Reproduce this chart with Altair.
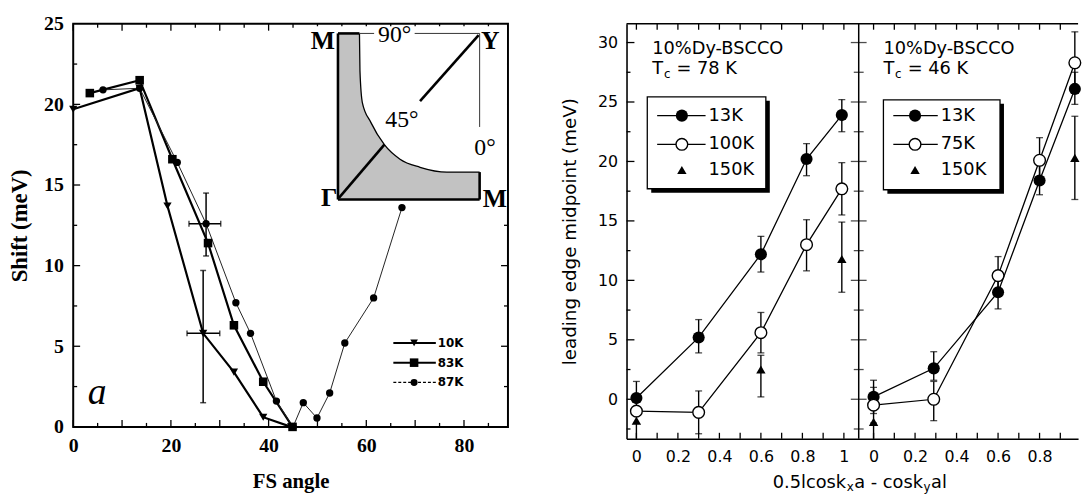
import altair as alt
import pandas as pd

SERIF = "Liberation Serif"
SANS = "DejaVu Sans"

# ---------------- panel a (left): Shift vs FS angle ----------------
k10_x = [0, 13.6, 19.3, 26.6, 32.9, 38.9, 44.6]
k10_y = [19.7, 21.0, 13.7, 5.8, 3.4, 0.6, 0.0]
k83_x = [3.4, 13.6, 20.3, 27.6, 32.9, 38.9, 44.9]
k83_y = [20.7, 21.5, 16.6, 11.4, 6.3, 2.8, 0.0]
k87_x = [6.1, 13.6, 21.3, 27.2, 33.3, 36.3, 41.6, 45.0, 47.1, 49.9, 52.5, 55.6, 61.5, 67.3]
k87_y = [20.9, 21.0, 16.4, 12.6, 7.7, 5.8, 1.6, 0.0, 1.5, 0.55, 2.1, 5.2, 8.0, 13.6]
err_a_x = [26.6, 27.2]
err_a_y = [5.8, 12.6]
err_a_xlo = [23.3, 23.7]
err_a_xhi = [30.0, 30.2]
err_a_ylo = [1.5, 10.6]
err_a_yhi = [9.7, 14.5]
a_xticks_major = [0, 10, 20, 30, 40, 50, 60, 70, 80]
a_xticks_minor = [5, 15, 25, 35, 45, 55, 65, 75, 85]
a_yticks_major = [5, 10, 15, 20]
a_yticks_minor = [2.5, 7.5, 12.5, 17.5, 22.5]
a_xlabels = [0, 20, 40, 60, 80]
a_ylabels = [0, 5, 10, 15, 20, 25]

# inset (Brillouin-zone sketch) in panel-a units
fs_curve_x = [54.2, 58.6, 58.7, 59.2, 60.9, 63.7, 66.9, 71.0, 76.5, 83.2]
fs_curve_y = [24.4, 24.4, 22.1, 20.1, 18.9, 17.5, 16.6, 16.1, 15.8, 15.8]
thick_x1 = [54.2, 54.2, 54.2, 83.2, 54.4, 71.0]
thick_y1 = [14.1, 24.4, 14.1, 14.1, 14.2, 20.2]
thick_x2 = [54.2, 58.6, 83.2, 83.2, 63.7, 83.0]
thick_y2 = [24.4, 24.4, 14.1, 15.8, 17.5, 24.3]
thin_x1 = [58.6, 69.9, 83.2]
thin_y1 = [24.4, 24.4, 24.4]
thin_x2 = [61.6, 83.2, 83.2]
thin_y2 = [24.4, 24.4, 18.6]
inset_bold_t = ["M", "Y", "Γ", "M"]
inset_bold_x = [51.1, 85.4, 52.4, 86.3]
inset_bold_y = [23.9, 23.9, 14.2, 14.1]
inset_t = ["90°", "45°", "0°"]
inset_x = [65.8, 67.3, 84.3]
inset_y = [24.3, 19.0, 17.3]

# ---------------- panels b/c: leading edge midpoint ----------------
RS = 1.143    # horizontal offset of the right-hand panel on the shared axis
DIV = 1.0714  # divider between the two panels
mid_x = [0, 0.3, 0.6, 0.82, 0.99]
mid13_y = [0.1, 5.2, 12.2, 20.2, 23.9]
mid13_lo = [-1.3, 3.9, 10.7, 18.8, 22.5]
mid13_hi = [1.5, 6.7, 13.7, 21.5, 25.2]
mid100_y = [-1.0, -1.1, 5.6, 13.0, 17.7]
mid100_lo = [None, -2.9, 3.9, 10.8, 15.5]
mid100_hi = [None, 0.7, 7.3, 15.1, 19.9]
mid150_x = [0, 0.6, 0.99]
mid150_y = [-1.8, 2.5, 11.8]
mid150_lo = [-3.32, 0.2, 9.0]
mid150_hi = [-1.8, 3.7, 14.9]
rt_x = [0, 0.29, 0.6, 0.8, 0.97]
rt13_y = [0.2, 2.6, 9.0, 18.4, 26.1]
rt13_lo = [-1.2, 1.6, 7.6, 17.2, 24.8]
rt13_hi = [1.6, 4.0, 10.4, 19.7, 27.5]
rt75_y = [-0.5, 0.0, 10.4, 20.1, 28.3]
rt75_lo = [-2.0, -1.8, 8.8, 18.5, 26.2]
rt75_hi = [1.0, 1.5, 12.0, 22.0, 30.9]
rt150_x = [0, 0.97]
rt150_y = [-1.9, 20.3]
rt150_lo = [-3.32, 16.8]
rt150_hi = [-1.9, 23.8]
b_xlabels = [0, 0.2, 0.4, 0.6, 0.8, 1.0]
c_xlabels = [0, 0.2, 0.4, 0.6, 0.8]
b_xticks = [0, 0.1, 0.2, 0.3, 0.4, 0.5, 0.6, 0.7, 0.8, 0.9, 1.0]
c_xticks = [0, 0.1, 0.2, 0.3, 0.4, 0.5, 0.6, 0.7, 0.8, 0.9]
b_ylabels = [0, 5, 10, 15, 20, 25, 30]
b_yticks_minor = [-2.5, 2.5, 7.5, 12.5, 17.5, 22.5, 27.5]


def ptext(s, x, y, size, font=SANS, weight="normal", align="left", baseline="alphabetic"):
    return alt.Chart(pd.DataFrame({"t": [s]})).mark_text(
        align=align, baseline=baseline, font=font, fontSize=size, fontWeight=weight, color="black"
    ).encode(x=alt.value(x), y=alt.value(y), text="t:N")


def prule(x1, x2, y1, y2, sw=1.3, dash=None, color="black"):
    kw = dict(color=color, strokeWidth=sw)
    if dash:
        kw["strokeDash"] = dash
    return alt.Chart(pd.DataFrame({"a": [0]})).mark_rule(**kw).encode(
        x=alt.value(x1), x2=alt.value(x2), y=alt.value(y1), y2=alt.value(y2))


def ppoint(x, y, shape, size, filled=True):
    if filled:
        m = alt.Chart(pd.DataFrame({"a": [0]})).mark_point(shape=shape, size=size, filled=True, color="black", opacity=1)
    else:
        m = alt.Chart(pd.DataFrame({"a": [0]})).mark_point(shape=shape, size=size, filled=True, fill="white",
                                                           stroke="black", strokeWidth=1.4, opacity=1)
    return m.encode(x=alt.value(x), y=alt.value(y))


def prect(x1, x2, y1, y2, fill, stroke=None, sw=0):
    kw = dict(fill=fill)
    if stroke:
        kw.update(stroke=stroke, strokeWidth=sw)
    return alt.Chart(pd.DataFrame({"a": [0]})).mark_rect(**kw).encode(
        x=alt.value(x1), x2=alt.value(x2), y=alt.value(y1), y2=alt.value(y2))


# ======================= LEFT PANEL =======================
LW, LH = 440, 408
XA = alt.Scale(domain=[0, 89], nice=False, zero=False)
YA = alt.Scale(domain=[0, 25], nice=False, zero=False)
axis_xa = alt.Axis(values=a_xlabels, title="FS angle", labelFont=SERIF, labelFontSize=20, labelFontWeight="bold",
                   labelColor="black", labelPadding=9, labelFlush=False, labelOverlap=False, ticks=False, tickSize=0,
                   domain=False, grid=False, titleFont=SERIF, titleFontSize=21, titleFontWeight="bold",
                   titleColor="black", titlePadding=15)
axis_ya = alt.Axis(values=a_ylabels, title="Shift (meV)", labelFont=SERIF, labelFontSize=20, labelFontWeight="bold",
                   labelColor="black", labelPadding=10, labelFlush=False, labelOverlap=False, ticks=False, tickSize=0,
                   domain=False, grid=False, titleFont=SERIF, titleFontSize=23, titleFontWeight="bold",
                   titleColor="black", titlePadding=12)


def AX(f):
    return alt.X(f"{f}:Q", scale=XA, axis=axis_xa)


def AY(f):
    return alt.Y(f"{f}:Q", scale=YA, axis=axis_ya)


def xya(xf="x", yf="y"):
    return dict(x=AX(xf), y=AY(yf))


d10 = pd.DataFrame({"x": k10_x, "y": k10_y})
d83 = pd.DataFrame({"x": k83_x, "y": k83_y})
d87 = pd.DataFrame({"x": k87_x, "y": k87_y})
ea = pd.DataFrame({"x": err_a_x, "y": err_a_y, "xlo": err_a_xlo, "xhi": err_a_xhi,
                   "ylo": err_a_ylo, "yhi": err_a_yhi})


def a_rx(vals, y1, y2):
    return alt.Chart(pd.DataFrame({"v": vals})).mark_rule(color="black", strokeWidth=1.3).encode(
        x=AX("v"), y=alt.value(y1), y2=alt.value(y2))


def a_ry(vals, x1, x2):
    return alt.Chart(pd.DataFrame({"v": vals})).mark_rule(color="black", strokeWidth=1.3).encode(
        y=AY("v"), x=alt.value(x1), x2=alt.value(x2))


left_layers = [
    alt.Chart(d10).mark_line(color="black", strokeWidth=2.2).encode(**xya()),
    alt.Chart(d83).mark_line(color="black", strokeWidth=2.2).encode(**xya()),
    alt.Chart(d87).mark_line(color="#222222", strokeWidth=1.0).encode(**xya()),
    # error bars
    alt.Chart(ea).mark_rule(color="black", strokeWidth=1.5).encode(x=AX("x"), y=AY("ylo"), y2="yhi:Q"),
    alt.Chart(ea).mark_rule(color="black", strokeWidth=1.5).encode(x=AX("xlo"), x2="xhi:Q", y=AY("y")),
    alt.Chart(ea).mark_tick(orient="horizontal", color="black", size=6, thickness=1.5).encode(**xya("x", "ylo")),
    alt.Chart(ea).mark_tick(orient="horizontal", color="black", size=6, thickness=1.5).encode(**xya("x", "yhi")),
    alt.Chart(ea).mark_tick(orient="vertical", color="black", size=6, thickness=1.5).encode(**xya("xlo", "y")),
    alt.Chart(ea).mark_tick(orient="vertical", color="black", size=6, thickness=1.5).encode(**xya("xhi", "y")),
    # markers
    alt.Chart(d10).mark_point(shape="triangle-down", filled=True, size=70, color="black", opacity=1).encode(**xya()),
    alt.Chart(d83).mark_point(shape="square", filled=True, size=75, color="black", opacity=1).encode(**xya()),
    alt.Chart(d87).mark_point(shape="circle", filled=True, size=55, color="black", opacity=1).encode(**xya()),
    # inward ticks
    a_rx(a_xticks_major, LH, LH - 7), a_rx(a_xticks_minor, LH, LH - 4),
    a_rx(a_xticks_major, 0, 7), a_rx(a_xticks_minor, 0, 4),
    a_ry(a_yticks_major, 0, 7), a_ry(a_yticks_minor, 0, 4),
    a_ry(a_yticks_major, LW, LW - 7), a_ry(a_yticks_minor, LW, LW - 4),
]

# inset
inset_bg = pd.DataFrame({"x1": [47.5], "x2": [88.8], "y1": [13.9], "y2": [24.85]})
fs = pd.DataFrame({"x": fs_curve_x, "y": fs_curve_y, "b": [14.1] * len(fs_curve_x)})
thick = pd.DataFrame({"x1": thick_x1, "y1": thick_y1, "x2": thick_x2, "y2": thick_y2})
thin = pd.DataFrame({"x1": thin_x1, "y1": thin_y1, "x2": thin_x2, "y2": thin_y2})
ib = pd.DataFrame({"t": inset_bold_t, "x": inset_bold_x, "y": inset_bold_y})
it = pd.DataFrame({"t": inset_t, "x": inset_x, "y": inset_y})
left_layers += [
    alt.Chart(inset_bg).mark_rect(fill="white").encode(x=AX("x1"), x2="x2:Q", y=AY("y1"), y2="y2:Q"),
    alt.Chart(fs).mark_area(color="#c2c2c2", interpolate="monotone", opacity=1).encode(
        x=AX("x"), y=AY("y"), y2="b:Q"),
    alt.Chart(fs.iloc[1:]).mark_line(color="black", strokeWidth=1.3, interpolate="monotone").encode(**xya()),
    alt.Chart(thick).mark_rule(color="black", strokeWidth=2.6).encode(
        x=AX("x1"), y=AY("y1"), x2="x2:Q", y2="y2:Q"),
    alt.Chart(thin).mark_rule(color="#333333", strokeWidth=1.0).encode(
        x=AX("x1"), y=AY("y1"), x2="x2:Q", y2="y2:Q"),
    alt.Chart(ib).mark_text(font=SERIF, fontSize=26, fontWeight="bold", color="black", baseline="middle",
                            align="center").encode(text="t:N", **xya()),
    alt.Chart(it).mark_text(font=SERIF, fontSize=24, color="black", baseline="middle",
                            align="center").encode(text="t:N", **xya()),
    alt.Chart(pd.DataFrame({"x": [4.9], "y": [2.1], "t": ["a"]})).mark_text(
        font=SERIF, fontSize=38, fontStyle="italic", color="black", baseline="middle", align="center"
    ).encode(text="t:N", **xya()),
]

# legend of panel a (pixel positions inside the plot area)
lg_rows = [323, 343, 363]
left_layers += [
    prule(324, 367, lg_rows[0], lg_rows[0], sw=2),
    prule(324, 367, lg_rows[1], lg_rows[1], sw=2),
    prule(324, 367, lg_rows[2], lg_rows[2], sw=1.2, dash=[3, 2]),
    ppoint(345, lg_rows[0], "triangle-down", 60),
    ppoint(345, lg_rows[1], "square", 75),
    ppoint(345, lg_rows[2], "circle", 50),
    ptext("10K", 369, lg_rows[0], 12, weight="bold", baseline="middle"),
    ptext("83K", 369, lg_rows[1], 12, weight="bold", baseline="middle"),
    ptext("87K", 369, lg_rows[2], 12, weight="bold", baseline="middle"),
]

left = alt.layer(*left_layers).properties(
    width=LW, height=LH, view=alt.ViewBackground(stroke="black", strokeWidth=2, fill="white"))

# ======================= MIDDLE + RIGHT PANELS =======================
W, H = 457, 420
XB = alt.Scale(domain=[-0.0476, 2.1286], nice=False, zero=False)
YB = alt.Scale(domain=[-3.32, 31.58], nice=False, zero=False)

x_label_vals = b_xlabels + [round(v + RS, 4) for v in c_xlabels]
x_tick_vals = b_xticks + [round(v + RS, 4) for v in c_xticks]

axis_xb = alt.Axis(values=x_label_vals, title="",
                   labelExpr=f"datum.value > {DIV} ? format(datum.value - {RS}, '.1~f') : format(datum.value, '.1~f')",
                   labelFont=SANS, labelFontSize=16, labelColor="black", labelPadding=10, labelFlush=False,
                   labelOverlap=False, ticks=False, tickSize=0, domain=True, domainColor="black", domainWidth=1.6,
                   grid=False)
axis_yb = alt.Axis(values=b_ylabels, title="leading edge midpoint (meV)", labelFont=SANS, labelFontSize=16,
                   labelColor="black", labelPadding=9, labelFlush=False, labelOverlap=False, ticks=False, tickSize=0,
                   domain=True, domainColor="black", domainWidth=1.6, grid=False, titleFont=SANS, titleFontSize=18.5,
                   titleFontWeight="normal", titleColor="black", titlePadding=18)


def BX(f):
    return alt.X(f"{f}:Q", scale=XB, axis=axis_xb)


def BY(f):
    return alt.Y(f"{f}:Q", scale=YB, axis=axis_yb)


def xyb(xf="x", yf="y"):
    return dict(x=BX(xf), y=BY(yf))


def b_rx(vals, y1, y2):
    return alt.Chart(pd.DataFrame({"v": vals})).mark_rule(color="black", strokeWidth=1.3).encode(
        x=BX("v"), y=alt.value(y1), y2=alt.value(y2))


def b_ry(vals, x1, x2):
    return alt.Chart(pd.DataFrame({"v": vals})).mark_rule(color="black", strokeWidth=1.3).encode(
        y=BY("v"), x=alt.value(x1), x2=alt.value(x2))


def series(name, xs, ys, lo, hi, shift):
    return pd.DataFrame({"s": name, "x": [v + shift for v in xs], "y": ys, "lo": lo, "hi": hi})


sb13 = series("b13", mid_x, mid13_y, mid13_lo, mid13_hi, 0)
sb100 = series("b100", mid_x, mid100_y, mid100_lo, mid100_hi, 0)
sb150 = series("b150", mid150_x, mid150_y, mid150_lo, mid150_hi, 0)
sc13 = series("c13", rt_x, rt13_y, rt13_lo, rt13_hi, RS)
sc75 = series("c75", rt_x, rt75_y, rt75_lo, rt75_hi, RS)
sc150 = series("c150", rt150_x, rt150_y, rt150_lo, rt150_hi, RS)
lines_df = pd.concat([sb13, sb100, sc13, sc75], ignore_index=True)
all_df = pd.concat([sb13, sb100, sb150, sc13, sc75, sc150], ignore_index=True)
err_df = all_df.dropna(subset=["lo", "hi"])
cap_lo = err_df[err_df["lo"] > -3.2]
cap_hi = err_df[err_df["hi"] > err_df["y"] + 0.05]
filled_df = pd.concat([sb13, sc13], ignore_index=True)
open_df = pd.concat([sb100, sc75], ignore_index=True)
tri_df = pd.concat([sb150, sc150], ignore_index=True)

right_layers = [
    alt.Chart(lines_df).mark_line(color="black", strokeWidth=1.3).encode(**xyb(), detail="s:N"),
    alt.Chart(err_df).mark_rule(color="black", strokeWidth=1.4).encode(x=BX("x"), y=BY("lo"), y2="hi:Q"),
    alt.Chart(cap_lo).mark_tick(orient="horizontal", color="black", size=7, thickness=1.3).encode(**xyb("x", "lo")),
    alt.Chart(cap_hi).mark_tick(orient="horizontal", color="black", size=7, thickness=1.3).encode(**xyb("x", "hi")),
    alt.Chart(filled_df).mark_point(shape="circle", filled=True, size=150, color="black", opacity=1).encode(**xyb()),
    alt.Chart(open_df).mark_point(shape="circle", filled=True, size=140, fill="white", stroke="black",
                                  strokeWidth=1.4, opacity=1).encode(**xyb()),
    alt.Chart(tri_df).mark_point(shape="triangle-up", filled=True, size=90, color="black", opacity=1).encode(**xyb()),
    # inward ticks, frame top, divider
    b_rx(x_tick_vals, H, H - 6), b_rx(x_tick_vals, 0, 6),
    b_ry(b_ylabels, 0, 8), b_ry(b_yticks_minor, 0, 4),
    prule(0, W, 0, 0, sw=1.6),
    alt.Chart(pd.DataFrame({"x": [DIV]})).mark_rule(color="black", strokeWidth=1.5).encode(
        x=BX("x"), y=alt.value(0), y2=alt.value(H)),
    alt.Chart(pd.DataFrame({"x": [DIV] * len(b_ylabels), "y": b_ylabels})).mark_tick(
        orient="horizontal", color="black", size=16, thickness=1.3).encode(**xyb()),
    alt.Chart(pd.DataFrame({"x": [DIV] * len(b_yticks_minor), "y": b_yticks_minor})).mark_tick(
        orient="horizontal", color="black", size=10, thickness=1.3).encode(**xyb()),
]

# legend boxes and annotations (pixel positions inside the plot area)
rows = [93, 122, 148]
for (bx1, bx2, by1, by2, lx1, lx2, mk, tx, labels, tcx, tname) in [
    (21, 141, 74, 167, 31, 80, 56, 83, ["13K", "100K", "150K"], 26, "78"),
    (260, 378, 77, 168, 270, 315, 292, 318, ["13K", "75K", "150K"], 260, "46"),
]:
    right_layers += [
        prect(bx1 + 4, bx2 + 4, by1 + 4, by2 + 4, "black"),
        prect(bx1, bx2, by1, by2, "white", stroke="black", sw=1.3),
        prule(lx1, lx2, rows[0], rows[0], sw=1.3),
        prule(lx1, lx2, rows[1], rows[1], sw=1.3),
        ppoint(mk, rows[0], "circle", 150),
        ppoint(mk, rows[1], "circle", 140, filled=False),
        ppoint(mk, rows[2], "triangle-up", 90),
        ptext(labels[0], tx, rows[0], 18, baseline="middle"),
        ptext(labels[1], tx, rows[1], 18, baseline="middle"),
        ptext(labels[2], tx, rows[2], 18, baseline="middle"),
        ptext("10%Dy-BSCCO", tcx, 31, 18),
        ptext("T", tcx, 51, 18),
        ptext("c", tcx + 11.8, 55, 12),
        ptext(f"= {tname} K", tcx + 24.5, 51, 18),
    ]

# x-axis title with subscripts
tx0 = 148
right_layers += [
    ptext("0.5lcosk", tx0, 470, 18),
    ptext("x", tx0 + 74.8, 473, 12),
    ptext("a - cosk", tx0 + 82.4, 470, 18),
    ptext("y", tx0 + 152.6, 473, 12),
    ptext("al", tx0 + 160.2, 470, 18),
]

right = alt.layer(*right_layers).properties(
    width=W, height=H, view=alt.ViewBackground(stroke="transparent", fill="white"))

chart = alt.hconcat(left, right, spacing=120, bounds="flush").properties(
    padding={"left": 0, "top": 2, "right": 0, "bottom": 0}, background="white"
).configure_view(strokeWidth=0)

chart.save("out.html", embed_options={"renderer": "svg", "actions": False})
